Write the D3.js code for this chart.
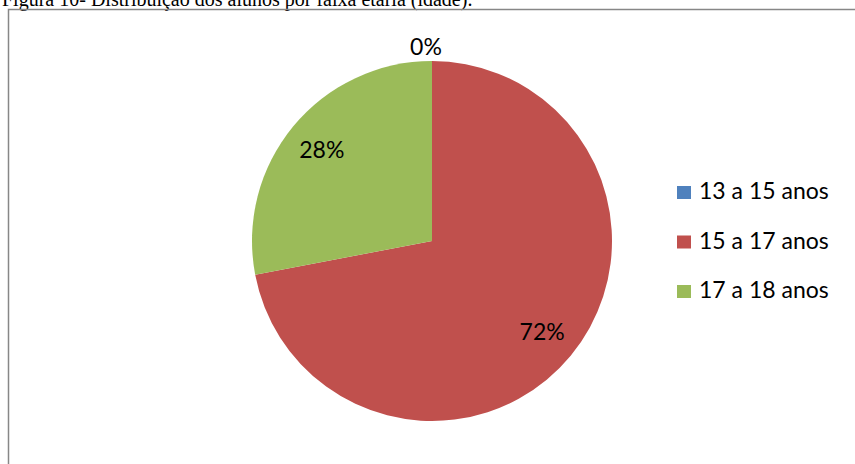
<!DOCTYPE html>
<html><head><meta charset="utf-8">
<script src="https://cdn.jsdelivr.net/npm/d3@7/dist/d3.min.js"></script>
<style>body{margin:0;background:#fff;}svg{display:block;}</style>
</head><body>
<script>
const categories = ["13 a 15 anos", "15 a 17 anos", "17 a 18 anos"];
const values = [0, 72, 28];
const labels = ["0%", "72%", "28%"];
const colors = ["#4F81BD", "#C0504D", "#9BBB59"];
const title = "Figura 10- Distribuição dos alunos por faixa etária (idade).";

const W = 855, H = 464;
const svg = d3.select("body").append("svg").attr("width", W).attr("height", H);

svg.append("text").attr("x", 2).attr("y", 6)
  .attr("font-family", "'Liberation Serif', 'Times New Roman', serif")
  .attr("font-size", 20).attr("fill", "#000").text(title);

// chart border (top and left visible)
svg.append("path").attr("d", `M8.5,${H} L8.5,9.5 L${W},9.5`)
  .attr("fill", "none").attr("stroke", "#878787").attr("stroke-width", 1.5);

const cx = 432, cy = 241, r = 180;
const pie = d3.pie().sort(null).value(d => d)(values);
const arc = d3.arc().innerRadius(0).outerRadius(r);
const g = svg.append("g").attr("transform", `translate(${cx},${cy})`);
g.selectAll("path").data(pie).join("path")
  .attr("d", arc).attr("fill", (d, i) => colors[i]);

const labelArc = d3.arc().innerRadius(143).outerRadius(143);
const font = "Lato, 'Open Sans', sans-serif";
g.selectAll("text.lab").data(pie).join("text")
  .attr("class", "lab")
  .attr("transform", (d, i) => {
    if (values[i] === 0) return `translate(-6,${-r - 14})`;
    const c = labelArc.centroid(d);
    return `translate(${c[0]},${c[1]})`;
  })
  .attr("text-anchor", "middle").attr("dy", "0.35em")
  .attr("font-family", font).attr("font-size", 23).attr("fill", "#000")
  .text((d, i) => labels[i]);

const leg = svg.append("g").attr("transform", "translate(677,186)");
const rows = leg.selectAll("g").data(categories).join("g")
  .attr("transform", (d, i) => `translate(0,${i * 49.5})`);
rows.append("rect").attr("width", 14).attr("height", 13).attr("fill", (d, i) => colors[i]);
rows.append("text").attr("x", 22).attr("y", 13)
  .attr("font-family", font).attr("font-size", 23).attr("fill", "#000")
  .text(d => d);
</script>
</body></html>
